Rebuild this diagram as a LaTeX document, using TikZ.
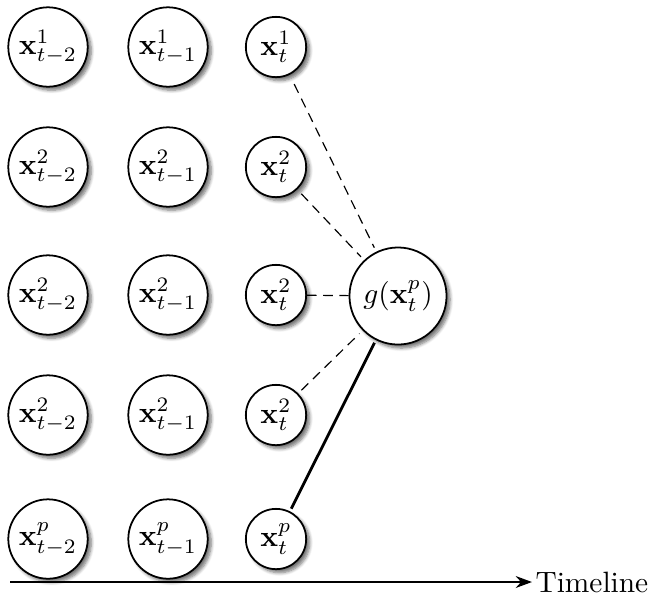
\documentclass[tikz,border=0pt]{standalone}
\usepackage{amsmath}
\usetikzlibrary{shadows.blur,arrows.meta}
\begin{document}
\begin{tikzpicture}[x=0.34pt,y=-0.34pt,
  state/.style={circle,draw,fill=white,semithick,inner sep=0pt,
    blur shadow={shadow xshift=1.2pt,shadow yshift=-1.2pt,
      shadow blur steps=6,shadow blur radius=1.1pt,shadow opacity=55}},
  past/.style={state,minimum size=27pt},
  now/.style={state,minimum size=20.5pt},
  agg/.style={state,minimum size=33pt},
  weak/.style={dashed,dash pattern=on 3.3pt off 2.2pt,thin},
  strong/.style={line width=0.95pt}]
\useasboundingbox (0,0) rectangle (650,598);
% input series, one row per variable
\foreach \r/\y/\s in {1/47/1,2/167/2,3/295/2,4/415/2,5/539/p}{
  \node[past] (a\r) at (48,\y)  {$\mathbf{x}^{\s}_{t-2}$};
  \node[past] (b\r) at (168,\y) {$\mathbf{x}^{\s}_{t-1}$};
  \node[now]  (c\r) at (276,\y) {$\mathbf{x}^{\s}_{t}$};
}
% aggregating node
\node[agg] (g) at (398,296) {$g(\mathbf{x}^{p}_{t})$};
\draw[weak,shorten <=3.5pt,shorten >=1.5pt] (c1) -- (g);
\draw[weak,shorten <=2pt,shorten >=1.5pt] (c2) -- (g);
\draw[weak] (c3) -- (g);
\draw[weak,shorten <=1.5pt,shorten >=1.5pt] (c4) -- (g);
\draw[strong,shorten <=1pt,shorten >=1pt] (c5) -- (g);
% time axis
\coordinate (t0) at (10,582);
\node[anchor=west,inner sep=1pt] (tl) at (532,582) {Timeline};
\draw[strong,-{Stealth[length=5.5pt,width=4pt]}] (t0) -- (tl.west);
\end{tikzpicture}
\end{document}
